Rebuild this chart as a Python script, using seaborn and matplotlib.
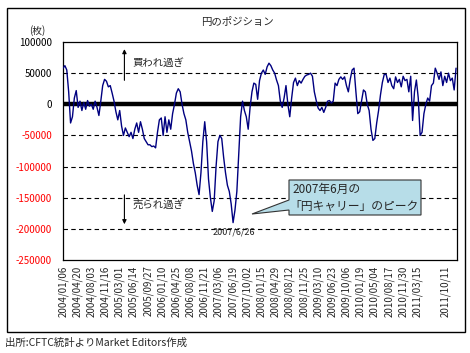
import numpy as np
import pandas as pd
import matplotlib
matplotlib.use("Agg")
import matplotlib.pyplot as plt
from matplotlib.patches import Rectangle, Polygon
import seaborn as sns

# CFTC yen net position (contracts), every 2 weeks from 2004/01/06
yen_position = [
    58000, 62000, 55000, 20000, -30000, -20000, 10000, 22000, -5000, 5000,
    -10000, 3000, -8000, 6000, -3000, 0, -8000, 5000, -5000, -18000, 5000,
    30000, 40000, 37000, 28000, 30000, 18000, 5000, -12000, -25000, -10000,
    -35000, -50000, -38000, -45000, -52000, -45000, -55000, -40000, -30000, -45000,
    -28000, -40000, -55000, -60000, -65000, -65000, -68000, -67000, -70000, -45000,
    -25000, -22000, -50000, -20000, -45000, -25000, -40000, -15000, 0, 18000,
    25000, 20000, 0, -15000, -25000, -45000, -60000, -75000, -95000, -110000,
    -130000, -145000, -110000, -60000, -28000, -60000, -120000, -150000, -172000, -155000,
    -100000, -60000, -50000, -55000, -85000, -110000, -130000, -140000, -160000, -190000,
    -170000, -140000, -80000, -20000, 5000, -10000, -20000, -40000, -5000, 20000,
    34000, 32000, 8000, 38000, 50000, 55000, 48000, 60000, 66000, 62000,
    55000, 50000, 39000, 30000, 5000, -5000, 10000, 30000, 0, -20000,
    10000, 35000, 42000, 30000, 38000, 34000, 40000, 45000, 47000, 48000,
    50000, 45000, 20000, 6000, -6000, -10000, -5000, -13000, -5000, 5000,
    6000, 2000, 5000, 34000, 30000, 40000, 44000, 40000, 44000, 30000,
    20000, 40000, 55000, 58000, 20000, -15000, -12000, 5000, 23000, 20000,
    0, -10000, -40000, -58000, -55000, -30000, -10000, 15000, 35000, 48000,
    48000, 35000, 42000, 30000, 25000, 44000, 35000, 40000, 28000, 45000,
    38000, 40000, 20000, 45000, -26000, 20000, 39000, 10000, -50000, -45000,
    -15000, 0, 10000, 5000, 30000, 34000, 58000, 50000, 40000, 52000,
    30000, 45000, 35000, 50000, 38000, 42000, 23000, 58000,
]
dates = pd.date_range("2004-01-06", periods=len(yen_position), freq="14D")

tick_labels = [
    "2004/01/06", "2004/04/20", "2004/08/03", "2004/11/16", "2005/03/01",
    "2005/06/14", "2005/09/27", "2006/01/10", "2006/04/25", "2006/08/08",
    "2006/11/21", "2007/03/06", "2007/06/19", "2007/10/02", "2008/01/15",
    "2008/04/29", "2008/08/12", "2008/11/25", "2009/03/10", "2009/06/23",
    "2009/10/06", "2010/01/19", "2010/05/04", "2010/08/17", "2010/11/30",
    "2011/03/15", "2011/10/11",
]
y_ticks = [100000, 50000, 0, -50000, -100000, -150000, -200000, -250000]
grid_levels = [50000, -50000, -100000, -150000, -200000]

df = pd.DataFrame({"date": dates, "position": yen_position})

sns.set_style("white")
plt.rcParams["font.family"] = ["Noto Sans CJK JP", "DejaVu Sans"]

W, H = 470, 353
fig = plt.figure(figsize=(W / 100, H / 100), dpi=100)


def fx(px):
    return px / W


def fy(py):
    return 1 - py / H


ax = fig.add_axes([fx(63), fy(260), fx(457) - fx(63), fy(42) - fy(260)])

for lv in grid_levels:
    ax.axhline(lv, color="black", lw=0.8, ls=(0, (4, 3)), zorder=1)
ax.axhline(0, color="black", lw=3.2, zorder=1)

sns.lineplot(data=df, x="date", y="position", color="#000080", lw=1.0, ax=ax, zorder=3)

ax.set_xlim(dates[0], dates[-1] + pd.Timedelta(days=7))
ax.set_ylim(-250000, 100000)
ax.set_xlabel("")
ax.set_ylabel("")

ax.set_yticks(y_ticks)
ax.set_yticklabels([str(v) for v in y_ticks], fontsize=7)
for lab, v in zip(ax.get_yticklabels(), y_ticks):
    lab.set_color("red" if v < 0 else "black")
ax.set_xticks(pd.to_datetime(tick_labels, format="%Y/%m/%d"))
ax.set_xticklabels(tick_labels, rotation=90, fontsize=7)
ax.tick_params(axis="y", length=0, pad=8)
ax.tick_params(axis="x", length=0, pad=4)

for s in ax.spines.values():
    s.set_color("black")
    s.set_linewidth(0.9)

# arrows and labels
wk = pd.Timedelta(days=7)
x_arrow = dates[0] + 65 * wk
ax.annotate("", xy=(x_arrow, 93000), xytext=(x_arrow, 34000),
            arrowprops=dict(arrowstyle="-|>", color="black", lw=0.8, mutation_scale=6))
ax.text(dates[0] + 74 * wk, 66000, "買われ過ぎ", fontsize=7.5, va="center", ha="left")
ax.annotate("", xy=(x_arrow, -197000), xytext=(x_arrow, -141000),
            arrowprops=dict(arrowstyle="-|>", color="black", lw=0.8, mutation_scale=6))
ax.text(dates[0] + 74 * wk, -162000, "売られ過ぎ", fontsize=7.5, va="center", ha="left")
ax.text(dates[0] + 181 * wk, -205000, "2007/6/26", fontsize=6.5, va="center", ha="center",
        color="#222222")

# callout box
pts = [(289, 180), (421, 180), (421, 215), (289, 215), (289, 210), (252, 214), (289, 200)]
fig.patches.append(Polygon([(fx(a), fy(b)) for a, b in pts], closed=True,
                           transform=fig.transFigure, facecolor="#b7dde8",
                           edgecolor="#333333", lw=0.8, zorder=5))
fig.text(fx(292), fy(189), "2007年6月の", fontsize=8.5, va="center", ha="left", zorder=6)
fig.text(fx(289), fy(206), "「円キャリー」のピーク", fontsize=8.5, va="center", ha="left", zorder=6)

# titles and frame
fig.text(fx(237), fy(22), "円のポジション", fontsize=7.5, ha="center", va="center")
fig.text(fx(37), fy(31), "(枚)", fontsize=7, ha="center", va="center")
fig.text(fx(5), fy(343), "出所:CFTC統計よりMarket Editors作成", fontsize=7.5, ha="left", va="center")
fig.patches.append(Rectangle((fx(7), fy(332)), fx(465) - fx(7), fy(8) - fy(332),
                             transform=fig.transFigure, fill=False, edgecolor="black", lw=1.0))

fig.savefig("out.png", dpi=100)
